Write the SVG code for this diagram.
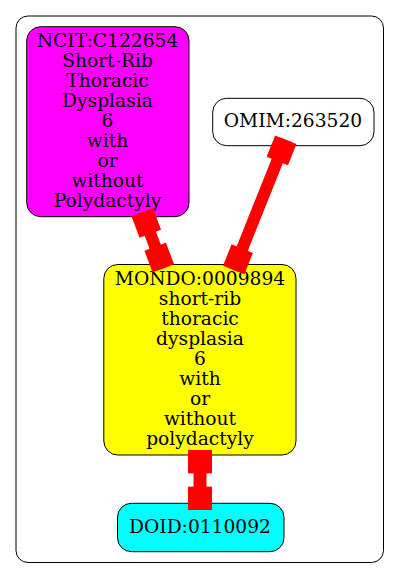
<svg xmlns="http://www.w3.org/2000/svg" width="400" height="579" viewBox="0 0 400 579">
<style>
.node{stroke:#000;stroke-width:1}
.lbl{font-family:"DejaVu Serif",serif;font-size:18.67px;text-anchor:middle;fill:#000}
.edge rect{fill:#ff0000;stroke:none}
</style>
<rect x="0" y="0" width="400" height="579" fill="#fff"/>
<g id="cluster">
<rect x="16" y="16" width="367.5" height="546.5" rx="12" ry="12" fill="none" stroke="#000" stroke-width="1"/>
</g>
<g id="NCIT_C122654">
<rect class="node" x="26.7" y="26.7" width="162.3" height="190" rx="14" ry="14" fill="#ff00ff"/>
<text class="lbl" x="107.5" y="46.7">NCIT:C122654</text>
<text class="lbl" x="107.5" y="66.7">Short-Rib</text>
<text class="lbl" x="107.5" y="86.7">Thoracic</text>
<text class="lbl" x="107.5" y="106.7">Dysplasia</text>
<text class="lbl" x="107.5" y="126.7">6</text>
<text class="lbl" x="107.5" y="146.7">with</text>
<text class="lbl" x="107.5" y="166.7">or</text>
<text class="lbl" x="107.5" y="186.7">without</text>
<text class="lbl" x="107.5" y="206.7">Polydactyly</text>
</g>
<g id="OMIM_263520">
<rect class="node" x="212.7" y="98.3" width="161.3" height="47.4" rx="14" ry="14" fill="#ffffff"/>
<text class="lbl" x="293" y="126.7">OMIM:263520</text>
</g>
<g id="MONDO_0009894">
<rect class="node" x="103.8" y="264.5" width="192.2" height="190.5" rx="14" ry="14" fill="#ffff00"/>
<text class="lbl" x="200" y="285">MONDO:0009894</text>
<text class="lbl" x="200" y="305">short-rib</text>
<text class="lbl" x="200" y="325">thoracic</text>
<text class="lbl" x="200" y="345">dysplasia</text>
<text class="lbl" x="200" y="365">6</text>
<text class="lbl" x="200" y="385">with</text>
<text class="lbl" x="200" y="405">or</text>
<text class="lbl" x="200" y="425">without</text>
<text class="lbl" x="200" y="445">polydactyly</text>
</g>
<g id="DOID_0110092">
<rect class="node" x="117.5" y="503.3" width="166.5" height="48.4" rx="14" ry="14" fill="#00ffff"/>
<text class="lbl" x="200" y="532.7">DOID:0110092</text>
</g>
<g id="connectors" class="edge">
<g transform="translate(142.2,212.2) rotate(-20.6)">
<rect x="-11.5" y="0" width="23" height="23"/>
<rect x="-6" y="0" width="12" height="59.9"/>
<rect x="-11.5" y="36.9" width="23" height="23"/>
</g>
<g transform="translate(285.8,139.7) rotate(21.8)">
<rect x="-11.5" y="0" width="23" height="23"/>
<rect x="-6" y="0" width="12" height="140.3"/>
<rect x="-11.5" y="117.3" width="23" height="23"/>
</g>
<g transform="translate(200,450)">
<rect x="-12" y="0" width="24" height="23.3"/>
<rect x="-6.5" y="0" width="13" height="60"/>
<rect x="-12" y="36.7" width="24" height="23.3"/>
</g>
</g>
</svg>
